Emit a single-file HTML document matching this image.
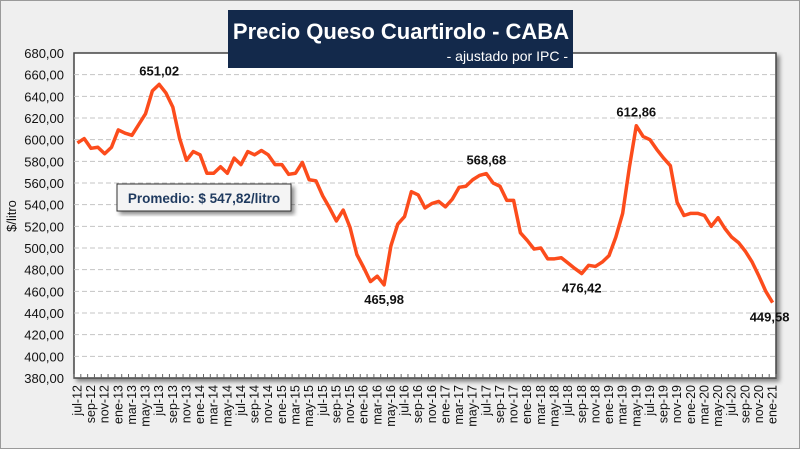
<!DOCTYPE html>
<html><head><meta charset="utf-8"><style>
body{margin:0;background:#fff}
#c{position:relative;width:800px;height:449px;background:#efefef;box-sizing:border-box;border:1px solid #9a9a9a;font-family:"Liberation Sans",sans-serif}
svg{position:absolute;left:0;top:0}
</style></head><body>
<div id="c">
<svg id="s" width="800" height="449"></svg>
</div>
<script>
const months=["ene","feb","mar","abr","may","jun","jul","ago","sep","oct","nov","dic"];
const values=[597,601,592,593,587,593,609,606,604,614,624,645,651.02,643,630,601,581,589,586,569,569,575,569,583,577,589,586,590,586,577,577,568,569,579,563,562,
548,537,525,535,519,494,482,469,474,465.98,502,522,529,552,549,537,541,543,538,545,556,557,563,567,568.68,560,557,544,544,514,507,499,500,490,490,491,486,481,476.42,484,483,487,493,510,532,575,
612.86,603,600,591,583,576,542,530,532,532,530,520,528,518,510,505,497,487,474,460,449.58];
const yTicks=[380,400,420,440,460,480,500,520,540,560,580,600,620,640,660,680];
const annotations=[{i:12,t:"651,02",pos:"above"},{i:45,t:"465,98",pos:"below"},{i:60,t:"568,68",pos:"above"},{i:74,t:"476,42",pos:"below"},{i:82,t:"612,86",pos:"above"},{i:102,t:"449,58",pos:"below"}];
const startMonth=6,startYear=12;
const NS="http://www.w3.org/2000/svg";
const s=document.getElementById('s');
const L=73,R=775,T=52,B=377,ymin=380,ymax=680;
const n=values.length, step=(R-L)/n;
const X=i=>L+step*(i+0.5);
const Y=v=>B-(v-ymin)/(ymax-ymin)*(B-T);
function mk(tag,attrs,parent){const e=document.createElementNS(NS,tag);for(const k in attrs)e.setAttribute(k,attrs[k]);(parent||s).appendChild(e);return e;}
const defs=mk('defs',{});
const f=mk('filter',{id:'sh',x:'-10%',y:'-10%',width:'130%',height:'130%'},defs);
mk('feDropShadow',{dx:'3',dy:'3',stdDeviation:'2','flood-color':'#000','flood-opacity':'0.45'},f);
let pa=mk('rect',{x:L,y:T,width:R-L,height:B-T,fill:'#fff',stroke:'#444','stroke-width':1.5,filter:'url(#sh)'});


yTicks.forEach(v=>{
  if(v>ymin&&v<ymax){let g=mk('line',{x1:L,x2:R,y1:Y(v),y2:Y(v),stroke:'#c4c4c4','stroke-dasharray':'5,3'});
  
  }
  let t=mk('text',{x:63,y:Y(v)+5,'text-anchor':'end','font-size':13,fill:'#111'});
  t.textContent=v.toFixed(2).replace('.',',');
  
  
});
for(let i=0;i<=n;i++){let tk=mk('line',{x1:L+step*i,x2:L+step*i,y1:B,y2:B-4,stroke:'#666'});

}
for(let i=0;i<n;i+=2){
  const m=(startMonth+i)%12, yr=startYear+Math.floor((startMonth+i)/12);
  const x=X(i)+4,y=384;
  let t=mk('text',{x:x,y:y,transform:`rotate(-90 ${x} ${y})`,'text-anchor':'end','font-size':12.5,fill:'#111'});
  t.textContent=months[m]+'-'+yr;
  
  
}
let ln=mk('polyline',{points:values.map((v,i)=>X(i)+','+Y(v)).join(' '),fill:'none',stroke:'#fc4c1c','stroke-width':3.5,'stroke-linejoin':'round'});


annotations.forEach(a=>{
  const x=X(a.i)+(a.i===n-1?-3:0), y=Y(values[a.i])+(a.pos==='above'?-9:19);
  let t=mk('text',{x:x,y:y,'text-anchor':'middle','font-size':13,'font-weight':'bold',fill:'#111'});
  t.textContent=a.t;
  
  
});
let at=mk('text',{x:15,y:215,transform:'rotate(-90 15 215)','text-anchor':'middle','font-size':13,fill:'#111'});
at.textContent='$/litro';


let pb=mk('rect',{x:116,y:183,width:174,height:27,fill:'#f4f4f4',stroke:'#333','stroke-width':1,filter:'url(#sh)'});


let pt=mk('text',{x:203,y:202,'text-anchor':'middle','font-size':13.5,'font-weight':'bold',fill:'#1f3a5f'});
pt.textContent='Promedio: $ 547,82/litro';


let tb=mk('rect',{x:227,y:9,width:345,height:58,fill:'#13294b'});


let tt=mk('text',{x:400,y:38,'text-anchor':'middle','font-size':22,'font-weight':'bold',fill:'#fff'});
tt.textContent='Precio Queso Cuartirolo - CABA';


let st=mk('text',{x:567,y:60,'text-anchor':'end','font-size':14,fill:'#fff'});
st.textContent='- ajustado por IPC -';


</script>
</body></html>
